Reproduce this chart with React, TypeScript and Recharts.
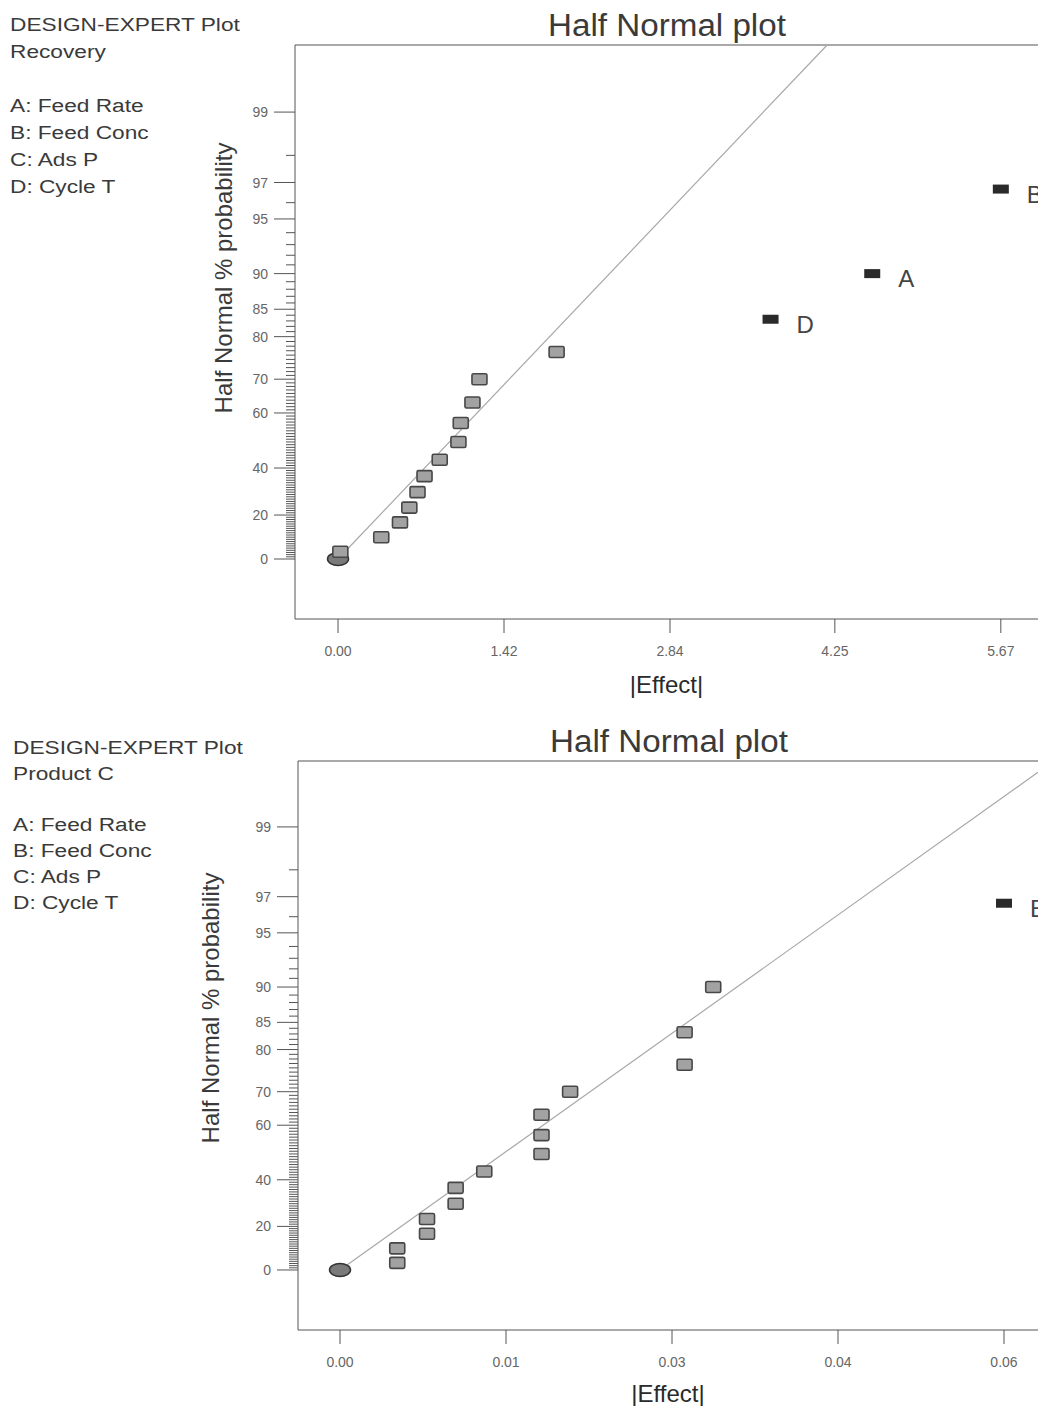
import { ScatterChart, Scatter, XAxis, YAxis, ReferenceLine } from 'recharts';

// half normal plots of the effects, 2^4 design (Recovery / Product C)
const factorNames = ['A: Feed Rate', 'B: Feed Conc', 'C: Ads P', 'D: Cycle T'];

const recoveryEffect = [0.02, 0.37, 0.53, 0.61, 0.68, 0.74, 0.87, 1.03, 1.05, 1.15, 1.21, 1.87, 3.7, 4.57, 5.67];
const recoveryProb = [3.3, 10, 16.7, 23.3, 30, 36.7, 43.3, 50, 56.7, 63.3, 70, 76.7, 83.3, 90, 96.7];
const recoveryTerm = ['', '', '', '', '', '', '', '', '', '', '', '', 'D', 'A', 'B'];
const recoveryXTicks = [0, 1.42, 2.84, 4.25, 5.67];
const recoveryXLabels = ['0.00', '1.42', '2.84', '4.25', '5.67'];
const recoveryFitSlope = 0.708;

const productEffect = [0.005, 0.005, 0.0076, 0.0076, 0.0101, 0.0101, 0.0126, 0.0176, 0.0176, 0.0176, 0.0201, 0.0301, 0.0301, 0.0326, 0.058];
const productProb = [3.3, 10, 16.7, 23.3, 30, 36.7, 43.3, 50, 56.7, 63.3, 70, 76.7, 83.3, 90, 96.7];
const productTerm = ['', '', '', '', '', '', '', '', '', '', '', '', '', '', 'B'];
const productXTicks = [0, 0.0145, 0.029, 0.0435, 0.058];
const productXLabels = ['0.00', '0.01', '0.03', '0.04', '0.06'];
const productFitSlope = 47.45;

const originEffect = [0];
const originProb = [0];

const probTickLabels = [0, 20, 40, 60, 70, 80, 85, 90, 95, 97, 99];

// inverse normal cdf (Acklam)
function invNorm(p: number): number {
  const a = [-39.69683028665376, 220.9460984245205, -275.9285104469687, 138.357751867269, -30.66479806614716, 2.506628277459239];
  const b = [-54.47609879822406, 161.5858368580409, -155.6989798598866, 66.80131188771972, -13.28068155288572];
  const c = [-0.007784894002430293, -0.3223964580411365, -2.400758277161838, -2.549732539343734, 4.374664141464968, 2.938163982698783];
  const d = [0.007784695709041462, 0.3224671290700398, 2.445134137142996, 3.754408661907416];
  const lo = 0.02425;
  if (p < lo) {
    const q = Math.sqrt(-2 * Math.log(p));
    return (((((c[0] * q + c[1]) * q + c[2]) * q + c[3]) * q + c[4]) * q + c[5]) / ((((d[0] * q + d[1]) * q + d[2]) * q + d[3]) * q + 1);
  }
  if (p > 1 - lo) {
    const q = Math.sqrt(-2 * Math.log(1 - p));
    return -(((((c[0] * q + c[1]) * q + c[2]) * q + c[3]) * q + c[4]) * q + c[5]) / ((((d[0] * q + d[1]) * q + d[2]) * q + d[3]) * q + 1);
  }
  const q = p - 0.5;
  const r = q * q;
  return ((((((a[0] * r + a[1]) * r + a[2]) * r + a[3]) * r + a[4]) * r + a[5]) * q) / (((((b[0] * r + b[1]) * r + b[2]) * r + b[3]) * r + b[4]) * r + 1);
}

// half normal % probability -> linear position
const hnz = (pct: number) => (pct <= 0 ? 0 : invNorm(0.5 + pct / 200));

const majorZ = probTickLabels.map(hnz);
const minorPct: number[] = [];
for (let p = 1; p < 99; p++) if (!probTickLabels.includes(p)) minorPct.push(p);
const yTicks = [...majorZ, ...minorPct.map(hnz)];

const FONT = '"Liberation Sans", Arial, Helvetica, sans-serif';
const INK = '#3a3a3a';

const ProbTick = (props: any) => {
  const { x, y, payload } = props;
  const idx = majorZ.findIndex((z) => Math.abs(z - payload.value) < 1e-7);
  const len = idx >= 0 ? 21 : 9;
  return (
    <g>
      <line x1={x - len} x2={x} y1={y} y2={y} stroke="#555" strokeWidth={1} />
      {idx >= 0 && (
        <text x={x - len - 6} y={y} dy="0.36em" textAnchor="end" fontSize={14} fill="#666">
          {probTickLabels[idx]}
        </text>
      )}
    </g>
  );
};

const LightMark = (props: any) => {
  const { cx, cy } = props;
  return <rect x={cx - 7.5} y={cy - 5.5} width={15} height={11} rx={1.5} fill="#a2a2a2" stroke="#474747" strokeWidth={1.6} />;
};

const HeavyMark = (props: any) => {
  const { cx, cy, payload } = props;
  return (
    <g>
      <rect x={cx - 8} y={cy - 4.5} width={16} height={9} fill="#2a2a2a" />
      <text x={cx + 26} y={cy + 5} dy="0.36em" fontSize={24} fill="#444">
        {payload.term}
      </text>
    </g>
  );
};

const OriginMark = (props: any) => {
  const { cx, cy } = props;
  return <ellipse cx={cx} cy={cy} rx={10.5} ry={6.5} fill="#7a7a7a" stroke="#333" strokeWidth={1.5} />;
};

type PanelProps = {
  top: number;
  height: number;
  plotTop: number;
  axisWidth: number;
  axisHeight: number;
  xDomain: [number, number];
  yDomain: [number, number];
  effect: number[];
  prob: number[];
  term: string[];
  xTicks: number[];
  xLabels: string[];
  fitSlope: number;
  labelOffset: number;
};

const HalfNormalPanel = (p: PanelProps) => {
  const rows = p.effect.map((e, i) => ({ effect: e, z: hnz(p.prob[i]), term: p.term[i] }));
  const plain = rows.filter((r) => !r.term);
  const named = rows.filter((r) => r.term);
  const origin = originEffect.map((e, i) => ({ effect: e, z: hnz(originProb[i]) }));
  const xEnd = Math.min(p.xDomain[1], p.yDomain[1] / p.fitSlope);
  return (
    <div style={{ position: 'absolute', left: 0, top: p.top }}>
      <ScatterChart width={1038} height={p.height} margin={{ top: p.plotTop, right: 0, bottom: 0, left: 0 }}>
        <XAxis
          type="number"
          dataKey="effect"
          domain={p.xDomain}
          allowDataOverflow
          ticks={p.xTicks}
          interval={0}
          tickFormatter={(_v: number, i: number) => p.xLabels[i]}
          tickSize={14}
          tickMargin={13}
          height={p.axisHeight}
          stroke="#555"
          tick={{ fontSize: 14, fill: '#666' }}
          label={{ value: '|Effect|', position: 'insideBottom', offset: p.labelOffset, fontSize: 24, fill: '#2a2a2a' }}
        />
        <YAxis
          type="number"
          dataKey="z"
          domain={p.yDomain}
          allowDataOverflow
          ticks={yTicks}
          interval={0}
          width={p.axisWidth}
          tickSize={0}
          tickMargin={0}
          tickLine={false}
          stroke="#555"
          tick={<ProbTick />}
        />
        <ReferenceLine y={p.yDomain[1]} stroke="#555" strokeWidth={1.2} />
        <ReferenceLine
          segment={[
            { x: 0, y: 0 },
            { x: xEnd, y: xEnd * p.fitSlope },
          ]}
          stroke="#a8a8a8"
          strokeWidth={1.2}
        />
        <Scatter data={origin} shape={<OriginMark />} isAnimationActive={false} />
        <Scatter data={plain} shape={<LightMark />} isAnimationActive={false} />
        <Scatter data={named} shape={<HeavyMark />} isAnimationActive={false} />
      </ScatterChart>
    </div>
  );
};

const Legend = ({ top, left, lineHeight, response }: { top: number; left: number; lineHeight: number; response: string }) => (
  <div
    style={{
      position: 'absolute',
      top,
      left,
      fontSize: 18,
      lineHeight: `${lineHeight}px`,
      color: INK,
      transform: 'scaleX(1.26)',
      transformOrigin: 'left top',
      whiteSpace: 'nowrap',
    }}
  >
    <div>DESIGN-EXPERT Plot</div>
    <div>{response}</div>
    <div>&nbsp;</div>
    {factorNames.map((f) => (
      <div key={f}>{f}</div>
    ))}
  </div>
);

const Title = ({ cx, top }: { cx: number; top: number }) => (
  <div
    style={{
      position: 'absolute',
      left: cx,
      top,
      fontSize: 31,
      lineHeight: 1,
      color: INK,
      whiteSpace: 'nowrap',
      transform: 'translateX(-50%) scaleX(1.07)',
    }}
  >
    Half Normal plot
  </div>
);

const YLabel = ({ cx, cy }: { cx: number; cy: number }) => (
  <div
    style={{
      position: 'absolute',
      left: cx,
      top: cy,
      fontSize: 24,
      lineHeight: 1,
      color: INK,
      whiteSpace: 'nowrap',
      transform: 'translate(-50%, -50%) rotate(-90deg)',
    }}
  >
    Half Normal % probability
  </div>
);

export default function App() {
  return (
    <div
      style={{
        position: 'absolute',
        left: 0,
        top: 0,
        width: 1038,
        height: 1406,
        overflow: 'hidden',
        background: '#fff',
        fontFamily: FONT,
      }}
    >
      <HalfNormalPanel
        top={0}
        height={699}
        plotTop={45}
        axisWidth={295}
        axisHeight={80}
        xDomain={[-0.368, 5.988]}
        yDomain={[-0.3458, 2.9625]}
        effect={recoveryEffect}
        prob={recoveryProb}
        term={recoveryTerm}
        xTicks={recoveryXTicks}
        xLabels={recoveryXLabels}
        fitSlope={recoveryFitSlope}
        labelOffset={6}
      />
      <HalfNormalPanel
        top={700}
        height={706}
        plotTop={61}
        axisWidth={298}
        axisHeight={76}
        xDomain={[-0.00367, 0.06097]}
        yDomain={[-0.349, 2.959]}
        effect={productEffect}
        prob={productProb}
        term={productTerm}
        xTicks={productXTicks}
        xLabels={productXLabels}
        fitSlope={productFitSlope}
        labelOffset={4}
      />
      <Legend top={12} left={10} lineHeight={27} response="Recovery" />
      <Legend top={736} left={13} lineHeight={25.8} response="Product C" />
      <Title cx={667} top={10} />
      <Title cx={669} top={726} />
      <YLabel cx={224} cy={278} />
      <YLabel cx={211} cy={1008} />
    </div>
  );
}
